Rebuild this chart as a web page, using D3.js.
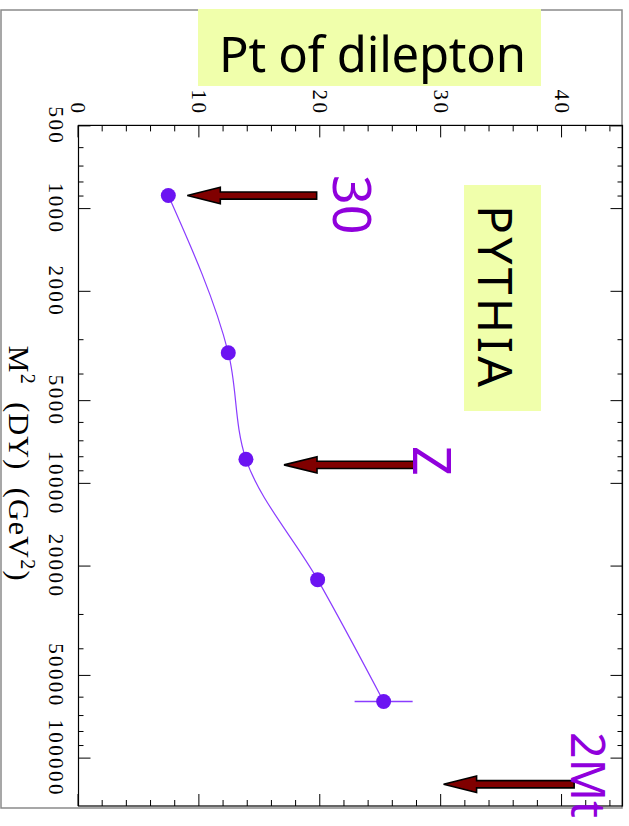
<!DOCTYPE html>
<html>
<head>
<meta charset="utf-8">
<script src="https://cdn.jsdelivr.net/npm/d3@7"></script>
<style>
  html, body { margin: 0; padding: 0; background: #fff; }
  svg { display: block; }
</style>
</head>
<body>
<script>
// Mean transverse momentum of the dilepton pair versus M^2 of the Drell-Yan pair (PYTHIA)
const massSq = [900, 3360, 8200, 22500, 62500];
const ptMean = [7.43, 12.39, 13.85, 19.78, 25.24];
const ptErr  = [0.4, 0.4, 0.5, 0.5, 2.4];

// Reference mass arrows: label, M^2 position, Pt range of the arrow (tail -> tip)
const arrowLabels = ["30", "Z", "2Mt"];
const arrowMassSq = [900, 8600, 125000];
const arrowPtTail = [19.7, 27.8, 41.0];
const arrowPtTip  = [9.0, 17.0, 30.2];

// Axis ticks
const massMajorTicks = [500, 1000, 2000, 5000, 10000, 20000, 50000, 100000];
const massMinorTicks = [600, 700, 800, 900, 3000, 4000, 6000, 7000, 8000, 9000,
                        30000, 40000, 60000, 70000, 80000, 90000];
const ptMajorTicks = [0, 10, 20, 30, 40];
const ptMinorTicks = [2, 4, 6, 8, 12, 14, 16, 18, 22, 24, 26, 28, 32, 34, 36, 38, 42, 44];
const massDomain = [500, 150000];
const ptDomain = [0, 45];

const W = 629, H = 826;
const svg = d3.select("body").append("svg")
  .attr("width", W).attr("height", H)
  .attr("viewBox", `0 0 ${W} ${H}`);

// Page border
svg.append("rect")
  .attr("x", 1).attr("y", 10).attr("width", 621).attr("height", 798)
  .attr("fill", "none").attr("stroke", "#8a8a8a").attr("stroke-width", 1.5);

// The whole plot is laid out landscape and turned a quarter turn clockwise.
// Inside the group: u runs down the page, v runs right-to-left.
const g = svg.append("g").attr("transform", `translate(${W},0) rotate(90)`);

const plot = { u0: 125.4, u1: 806, v0: 6.5, v1: 550.5 };

const x = d3.scaleLog().domain(massDomain).range([plot.u0, plot.u1]);
const y = d3.scaleLinear().domain(ptDomain).range([plot.v1, plot.v0]);

const tickFont = "'Liberation Serif', 'Times New Roman', serif";

function styleAxis(sel, withText) {
  sel.select(".domain").remove();
  sel.selectAll(".tick line").attr("stroke", "#000").attr("stroke-width", 1);
  if (withText) {
    sel.selectAll(".tick text")
      .attr("fill", "#000")
      .style("font-family", tickFont)
      .style("font-size", "21px")
      .style("letter-spacing", "2.4px");
  } else {
    sel.selectAll(".tick text").remove();
  }
}

// M^2 axis (bottom of the landscape plot) with mirrored ticks on the opposite side
g.append("g").attr("transform", `translate(0,${plot.v1})`)
  .call(d3.axisBottom(x).tickValues(massMajorTicks).tickSizeInner(-12).tickSizeOuter(0)
        .tickPadding(15).tickFormat(d3.format("d")))
  .call(s => styleAxis(s, true));
g.append("g").attr("transform", `translate(0,${plot.v1})`)
  .call(d3.axisBottom(x).tickValues(massMinorTicks).tickSize(-5))
  .call(s => styleAxis(s, false));
g.append("g").attr("transform", `translate(0,${plot.v0})`)
  .call(d3.axisTop(x).tickValues(massMajorTicks).tickSize(-12))
  .call(s => styleAxis(s, false));
g.append("g").attr("transform", `translate(0,${plot.v0})`)
  .call(d3.axisTop(x).tickValues(massMinorTicks).tickSize(-5))
  .call(s => styleAxis(s, false));

// Pt axis (left of the landscape plot) with mirrored ticks
g.append("g").attr("transform", `translate(${plot.u0},0)`)
  .call(d3.axisLeft(y).tickValues(ptMajorTicks).tickSizeInner(-12).tickSizeOuter(0)
        .tickPadding(10).tickFormat(d3.format("d")))
  .call(s => styleAxis(s, true));
g.append("g").attr("transform", `translate(${plot.u0},0)`)
  .call(d3.axisLeft(y).tickValues(ptMinorTicks).tickSize(-6))
  .call(s => styleAxis(s, false));
g.append("g").attr("transform", `translate(${plot.u1},0)`)
  .call(d3.axisRight(y).tickValues(ptMajorTicks).tickSize(-12))
  .call(s => styleAxis(s, false));
g.append("g").attr("transform", `translate(${plot.u1},0)`)
  .call(d3.axisRight(y).tickValues(ptMinorTicks).tickSize(-6))
  .call(s => styleAxis(s, false));

// Frame
g.append("rect")
  .attr("x", plot.u0).attr("y", plot.v0)
  .attr("width", plot.u1 - plot.u0).attr("height", plot.v1 - plot.v0)
  .attr("fill", "none").attr("stroke", "#000").attr("stroke-width", 1.2);

// Axis title
const xt = g.append("text")
  .attr("x", (plot.u0 + plot.u1) / 2 - 2)
  .attr("y", W - 9)
  .attr("text-anchor", "middle")
  .style("font-family", tickFont)
  .style("font-size", "30px")
  .style("letter-spacing", "1.2px")
  .style("white-space", "pre")
  .attr("fill", "#000");
xt.append("tspan").text("M");
xt.append("tspan").attr("dy", -12).style("font-size", "20px").text("2");
xt.append("tspan").attr("dy", 12).text("  (DY)  (GeV");
xt.append("tspan").attr("dy", -12).style("font-size", "20px").text("2");
xt.append("tspan").attr("dy", 12).text(")");

// PYTHIA tag
const tag = { u0: 185, u1: 411, v0: 88, v1: 165 };
g.append("rect")
  .attr("x", tag.u0).attr("y", tag.v0)
  .attr("width", tag.u1 - tag.u0).attr("height", tag.v1 - tag.v0)
  .attr("fill", "#f0ffab");
g.append("text")
  .attr("x", 205).attr("y", 151)
  .attr("textLength", 182)
  .style("font-family", "'Noto Sans', 'DejaVu Sans', sans-serif")
  .style("font-size", "48px")
  .attr("fill", "#000")
  .text("PYTHIA");

// Reference-mass arrows
const arrowData = arrowLabels.map((label, i) => ({
  label, m: arrowMassSq[i], from: arrowPtTail[i], to: arrowPtTip[i]
}));
const hw = 3.6, hh = 8.2, hl = 33;
g.selectAll("path.arrow").data(arrowData).join("path")
  .attr("class", "arrow")
  .attr("d", d => {
    const u = x(d.m), vs = y(d.from), vt = y(d.to);
    const vb = vt - hl;
    return `M${u - hw},${vs} L${u + hw},${vs} L${u + hw},${vb} L${u + hh},${vb} ` +
           `L${u},${vt} L${u - hh},${vb} L${u - hw},${vb} Z`;
  })
  .attr("fill", "#800000")
  .attr("stroke", "#000")
  .attr("stroke-width", 1.6)
  .attr("stroke-linejoin", "miter");

// Arrow labels
const labelPlace = [
  { u: 175, v: W - 333, size: 52, len: null },
  { u: 446, v: W - 413, size: 52, len: null },
  { u: 732, v: W - 571, size: 47, len: 86 }
];
g.selectAll("text.arrow-label").data(arrowData).join("text")
  .attr("class", "arrow-label")
  .attr("x", (d, i) => labelPlace[i].u)
  .attr("y", (d, i) => labelPlace[i].v)
  .attr("textLength", (d, i) => labelPlace[i].len)
  .attr("lengthAdjust", "spacingAndGlyphs")
  .style("font-family", "'Noto Sans', 'DejaVu Sans', sans-serif")
  .style("font-size", (d, i) => labelPlace[i].size + "px")
  .attr("fill", "#9000dc")
  .text(d => d.label);

// Data: smooth curve, error bars, markers
const pts = massSq.map((m, i) => ({ m, pt: ptMean[i], err: ptErr[i] }));

g.append("path")
  .datum(pts)
  .attr("fill", "none")
  .attr("stroke", "#8a3cff")
  .attr("stroke-width", 1.2)
  .attr("d", d3.line().x(d => x(d.m)).y(d => y(d.pt)).curve(d3.curveMonotoneX));

g.selectAll("line.err").data(pts).join("line")
  .attr("class", "err")
  .attr("x1", d => x(d.m)).attr("x2", d => x(d.m))
  .attr("y1", d => y(d.pt - d.err)).attr("y2", d => y(d.pt + d.err))
  .attr("stroke", "#8a3cff").attr("stroke-width", 1.5);

g.selectAll("circle.pt").data(pts).join("circle")
  .attr("class", "pt")
  .attr("cx", d => x(d.m)).attr("cy", d => y(d.pt))
  .attr("r", 7.5)
  .attr("fill", "#6c14f2");

// Title banner
svg.append("rect")
  .attr("x", 198).attr("y", 9).attr("width", 343).attr("height", 77)
  .attr("fill", "#f0ffab");
svg.append("text")
  .attr("x", 219).attr("y", 72)
  .attr("textLength", 307)
  .style("font-family", "'Noto Sans', 'DejaVu Sans', sans-serif")
  .style("font-size", "49px")
  .attr("fill", "#000")
  .text("Pt of dilepton");
</script>
</body>
</html>
